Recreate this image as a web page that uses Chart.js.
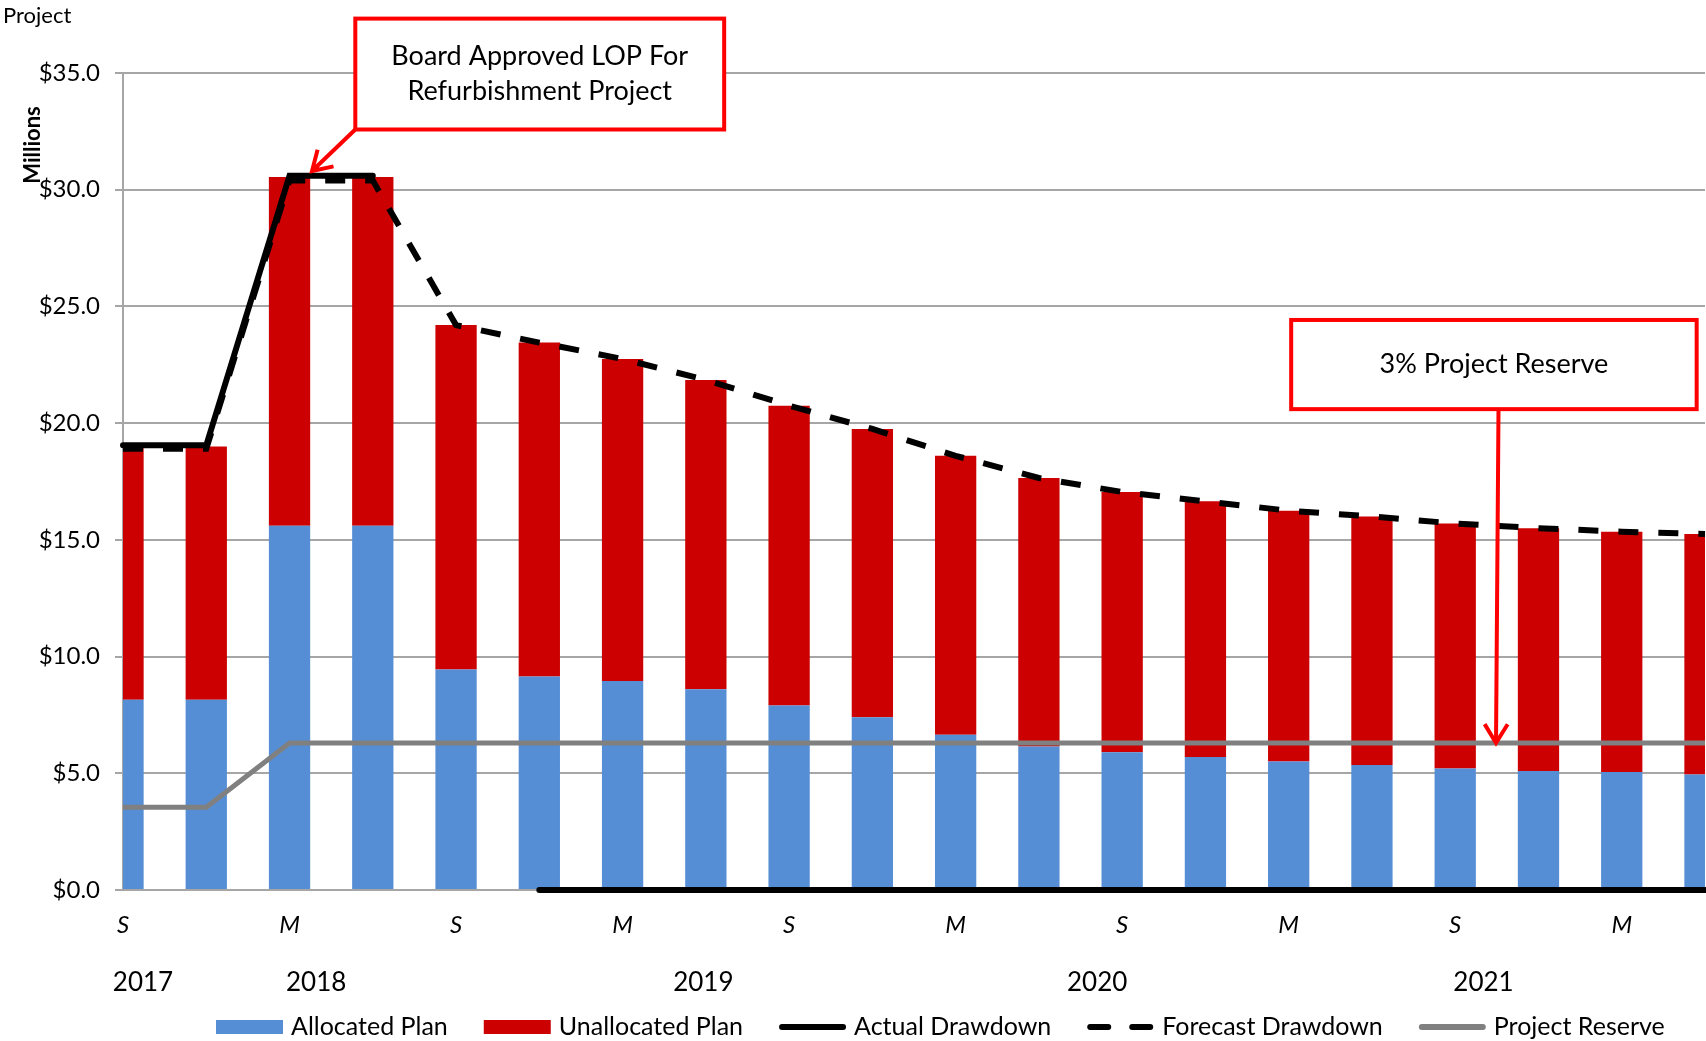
<!DOCTYPE html>
<html>
<head>
<meta charset="utf-8">
<script src="https://cdn.jsdelivr.net/npm/chart.js@4.4.1/dist/chart.umd.min.js"></script>
<style>
  html, body { margin: 0; padding: 0; background: #fff; overflow: hidden; }
</style>
</head>
<body>
<canvas id="c" width="1706" height="1041"></canvas>
<script>
// dados (milhões de $)
const quarters = ['Sep 2017','Dec 2017','Mar 2018','Jun 2018','Sep 2018','Dec 2018','Mar 2019','Jun 2019',
  'Sep 2019','Dec 2019','Mar 2020','Jun 2020','Sep 2020','Dec 2020','Mar 2021','Jun 2021',
  'Sep 2021','Dec 2021','Mar 2022','Jun 2022'];
const monthTicks = ['S','','M','','S','','M','','S','','M','','S','','M','','S','','M',''];
const yearLabels = ['2017','2018','2019','2020','2021'];
const yearAt = [0.24, 2.32, 6.97, 11.7, 16.34];

const allocated   = [8.15, 8.15, 15.6, 15.6, 9.45, 9.15, 8.95, 8.6, 7.9, 7.4, 6.65, 6.15, 5.9, 5.7, 5.5, 5.35, 5.2, 5.1, 5.05, 4.95];
const unallocated = [10.85, 10.85, 14.95, 14.95, 14.75, 14.3, 13.8, 13.25, 12.85, 12.35, 11.95, 11.5, 11.15, 10.95, 10.75, 10.65, 10.5, 10.4, 10.3, 10.3];
const actual      = [19.05, 19.05, 30.6, 30.6, null, 0, 0, 0, 0, 0, 0, 0, 0, 0, 0, 0, 0, 0, 0, 0];
const forecast    = [18.9, 18.9, 30.4, 30.4, 24.2, 23.45, 22.75, 21.85, 20.75, 19.75, 18.6, 17.65, 17.05, 16.65, 16.25, 16.0, 15.7, 15.5, 15.35, 15.25];
const reserve     = [3.55, 3.55, 6.3, 6.3, 6.3, 6.3, 6.3, 6.3, 6.3, 6.3, 6.3, 6.3, 6.3, 6.3, 6.3, 6.3, 6.3, 6.3, 6.3, 6.3];

const FONT = 'Lato, "Liberation Sans", sans-serif';
const GRID = '#a6a6a6';

// caixas de anotação, em unidades dos eixos (índice de categoria, valor)
const notes = [
  { lines: ['Board Approved LOP For', 'Refurbishment Project'], x1: 2.79, x2: 7.22, y1: 37.33, y2: 32.58,
    from: [2.79, 32.58], to: [2.27, 30.8] },
  { lines: ['3% Project Reserve'], x1: 14.03, x2: 18.9, y1: 24.42, y2: 20.6,
    from: [16.52, 20.6], to: [16.49, 6.3] }
];

function arrow(ctx, x0, y0, x1, y1){
  const a = Math.atan2(y1 - y0, x1 - x0), h = 22, s = 0.55;
  ctx.beginPath();
  ctx.moveTo(x0, y0); ctx.lineTo(x1, y1);
  ctx.moveTo(x1 - h*Math.cos(a - s), y1 - h*Math.sin(a - s));
  ctx.lineTo(x1, y1);
  ctx.lineTo(x1 - h*Math.cos(a + s), y1 - h*Math.sin(a + s));
  ctx.stroke();
}

const extras = {
  id: 'extras',
  afterDraw(chart){
    const ctx = chart.ctx, xs = chart.scales.x, ys = chart.scales.y;
    ctx.save();
    ctx.fillStyle = '#000';

    // títulos soltos
    ctx.font = '22px ' + FONT;
    ctx.textAlign = 'left'; ctx.textBaseline = 'middle';
    ctx.fillText('Project', 3, 16);
    ctx.save();
    ctx.translate(33, 145);
    ctx.rotate(-Math.PI/2);
    ctx.font = 'bold 22px ' + FONT;
    ctx.textAlign = 'center';
    ctx.fillText('Millions', 0, 0);
    ctx.restore();

    // anos
    ctx.font = '26px ' + FONT;
    ctx.textAlign = 'center';
    yearLabels.forEach((t, i) => ctx.fillText(t, xs.getPixelForValue(yearAt[i]), 983));

    // anotações
    notes.forEach(n => {
      const l = xs.getPixelForValue(n.x1), r = xs.getPixelForValue(n.x2);
      const t = ys.getPixelForValue(n.y1), b = ys.getPixelForValue(n.y2);
      ctx.fillStyle = '#fff';
      ctx.fillRect(l, t, r - l, b - t);
      ctx.strokeStyle = '#ff0000'; ctx.lineWidth = 4;
      ctx.strokeRect(l, t, r - l, b - t);
      ctx.fillStyle = '#000';
      ctx.font = '27px ' + FONT;
      const cy = (t + b) / 2, lh = 35;
      n.lines.forEach((s, i) => ctx.fillText(s, (l + r) / 2, cy + (i - (n.lines.length - 1) / 2) * lh));
      arrow(ctx, xs.getPixelForValue(n.from[0]), ys.getPixelForValue(n.from[1]),
                 xs.getPixelForValue(n.to[0]), ys.getPixelForValue(n.to[1]));
    });

    // legenda
    ctx.font = '25px ' + FONT;
    ctx.textAlign = 'left';
    let x = 216;
    const ly = 1027;
    chart.data.datasets.slice().sort((a, b) => a.legendPos - b.legendPos).forEach(ds => {
      if (ds.type === 'bar') {
        ctx.fillStyle = ds.backgroundColor;
        ctx.fillRect(x, ly - 7, 67, 14);
      } else {
        ctx.strokeStyle = ds.borderColor;
        ctx.lineWidth = 6;
        ctx.setLineDash(ds.borderDash ? [18, 24] : []);
        ctx.lineCap = 'round';
        ctx.beginPath(); ctx.moveTo(x + 3, ly); ctx.lineTo(x + 64, ly); ctx.stroke();
        ctx.setLineDash([]); ctx.lineCap = 'butt';
      }
      ctx.fillStyle = '#000';
      ctx.fillText(ds.label, x + 75, ly);
      x += 75 + ctx.measureText(ds.label).width + 36;
    });
    ctx.restore();
  }
};

new Chart(document.getElementById('c'), {
  data: {
    labels: quarters,
    datasets: [
      { type: 'line', label: 'Actual Drawdown', data: actual, borderColor: '#000', borderWidth: 6,
        borderCapStyle: 'round', pointRadius: 0, stack: 'a', order: 0, legendPos: 2, clip: false },
      { type: 'line', label: 'Forecast Drawdown', data: forecast, borderColor: '#000', borderWidth: 6,
        borderDash: [20, 20], pointRadius: 0, stack: 'f', order: 0, legendPos: 3 },
      { type: 'line', label: 'Project Reserve', data: reserve, borderColor: '#808080', borderWidth: 5,
        pointRadius: 0, stack: 'r', order: 0, legendPos: 4 },
      { type: 'bar', label: 'Allocated Plan', data: allocated, backgroundColor: '#558ed5',
        stack: 'plan', order: 1, clip: 0, legendPos: 0 },
      { type: 'bar', label: 'Unallocated Plan', data: unallocated, backgroundColor: '#cc0000',
        stack: 'plan', order: 1, clip: 0, legendPos: 1 }
    ]
  },
  options: {
    responsive: false,
    devicePixelRatio: 1,
    animation: false,
    layout: { padding: { top: 73, right: 1, left: 0, bottom: 0 } },
    datasets: { bar: { categoryPercentage: 1, barPercentage: 0.496 } },
    plugins: { legend: { display: false }, tooltip: { enabled: false } },
    scales: {
      x: {
        offset: false,
        stacked: true,
        // marcas invisíveis só para afastar os rótulos do eixo
        grid: { display: true, drawOnChartArea: false, color: 'rgba(0,0,0,0)', tickLength: 21 },
        border: { display: true, color: GRID, width: 2 },
        ticks: {
          autoSkip: false, maxRotation: 0, padding: 0, color: '#000',
          font: { family: FONT, size: 24, style: 'italic' },
          callback: (v, i) => monthTicks[i]
        },
        afterFit: s => { s.height = 151; }
      },
      y: {
        stacked: true,
        min: 0, max: 35,
        ticks: { stepSize: 5, padding: 15, color: '#000', font: { family: FONT, size: 24 },
          callback: v => '$' + v.toFixed(1) },
        grid: { color: GRID, lineWidth: 2, tickLength: 8 },
        border: { color: GRID, width: 2 },
        afterFit: s => { s.width = 123; }
      }
    }
  },
  plugins: [extras]
});
</script>
</body>
</html>
